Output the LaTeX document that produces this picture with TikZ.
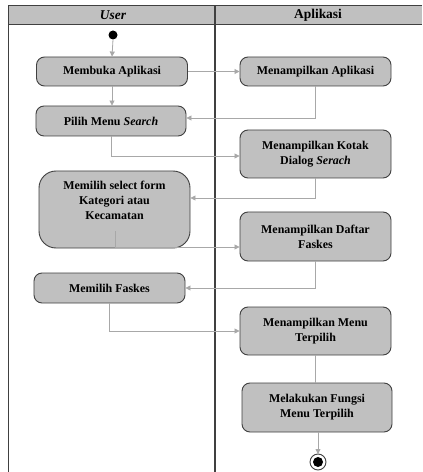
\documentclass[tikz,border=0pt]{standalone}
\usepackage{fontspec}
\setmainfont{Liberation Serif}
\usetikzlibrary{arrows.meta}
\definecolor{boxgray}{HTML}{C0C0C0}
\definecolor{edgegray}{HTML}{404040}
\definecolor{flowgray}{HTML}{A8A8A8}
\tikzset{
  act/.style={draw=edgegray,fill=boxgray,line width=0.9bp,rounded corners=8bp,
    align=center,inner sep=0pt,minimum width=151bp,
    font=\fontsize{12}{15}\selectfont\bfseries},
  flow/.style={draw=flowgray,line width=0.8bp,-{Triangle[length=5bp,width=5bp,fill=flowgray]}},
}
\begin{document}
\begin{tikzpicture}[x=1bp,y=-1bp]
  \path[use as bounding box] (0,0) rectangle (422,472);
  \fill[white] (0,0) rectangle (422,472);

  % swimlanes
  \fill[boxgray] (8,6) rectangle (422,25);
  \draw[edgegray,line width=1bp] (422,6) -- (8,6) -- (8,472);
  \draw[edgegray,line width=1bp] (8,25) -- (422,25);
  \draw[edgegray,line width=1.2bp] (215,6) -- (215,472);
  \node (laneuser) at (113,15.5) {\fontsize{13.5}{15}\selectfont\bfseries\itshape User};
  \node (laneapp) at (318,15.5) {\fontsize{13.5}{15}\selectfont\bfseries Aplikasi};

  % start and end
  \fill[black] (113,35) circle (4.5bp);
  \coordinate (start) at (113,39.5);
  \draw[edgegray,line width=0.9bp] (318,462) circle (8bp);
  \fill[black] (318,462) circle (5bp);
  \coordinate (end) at (318,454);

  % activities
  \node[act,minimum height=29bp] (buka) at (112,71.5) {Membuka Aplikasi};
  \node[act,minimum height=29bp] (tampil) at (315.5,71.5) {Menampilkan Aplikasi};
  \node[act,minimum height=30bp,minimum width=150bp] (pilih) at (111,121) {Pilih Menu \textit{Search}};
  \node[act,minimum height=48bp] (kotak) at (315.5,154) {Menampilkan Kotak\\Dialog \textit{Serach}};
  \node[act,minimum height=77bp,rounded corners=17bp] (select) at (114.5,209.5)
    {Memilih select form\\Kategori atau\\Kecamatan\\[3bp]};
  \node[act,minimum height=49bp] (daftar) at (315.5,236.5) {Menampilkan Daftar\\Faskes};
  \node[act,minimum height=30bp] (faskes) at (109.5,288) {Memilih Faskes};
  \node[act,minimum height=48bp] (menu) at (315.5,331) {Menampilkan Menu\\Terpilih};
  \node[act,minimum height=49bp,minimum width=150bp] (fungsi) at (317,407.5) {Melakukan Fungsi\\Menu Terpilih};
  \coordinate (selmark) at (115,231);

  % flows
  \draw[flow] (start) -- (buka.north);
  \draw[flow] (buka.east) -- (tampil.west);
  \draw[flow] (buka.south) -- (buka.south |- pilih.north);
  \draw[flow] (tampil.south) |- ([yshift=3bp]pilih.east);
  \draw[flow] (pilih.south) |- ([yshift=-2bp]kotak.west);
  \draw[flow] (kotak.south) |- ([yshift=11.5bp]select.east);
  \draw[flow] (selmark) |- ([yshift=-10.5bp]daftar.west);
  \draw[flow] (daftar.south) |- (faskes.east);
  \draw[flow] (faskes.south) |- (menu.west);
  \draw[draw=flowgray,line width=0.8bp] (menu.south) -- (menu.south |- fungsi.north);
  \draw[flow] (fungsi.south -| end) -- (end);
\end{tikzpicture}
\end{document}
